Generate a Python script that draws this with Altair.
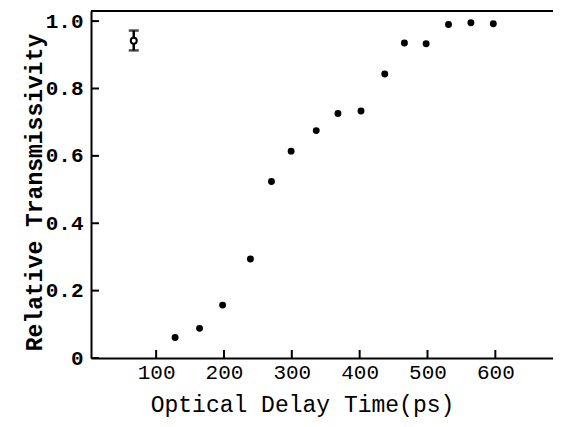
import altair as alt
import pandas as pd

# Data
delay_ps = [128, 164, 198, 239, 270, 299, 336, 368, 402, 437, 466, 498, 531, 564, 597]
transmissivity = [0.061, 0.088, 0.157, 0.294, 0.524, 0.614, 0.675, 0.726, 0.733,
                  0.843, 0.935, 0.933, 0.990, 0.995, 0.992]

# Representative error bar
err_x = [67]
err_y = [0.942]
err_lo = [0.913]
err_hi = [0.972]

x_ticks = [100, 200, 300, 400, 500, 600]
y_ticks = [0, 0.2, 0.4, 0.6, 0.8, 1.0]

W, H = 462, 347
X_DOMAIN = [4, 685]
Y_DOMAIN = [0, 1.03]
FONT = "Liberation Mono"

pts = pd.DataFrame({"delay": delay_ps, "trans": transmissivity})
err = pd.DataFrame({"delay": err_x, "trans": err_y, "lo": err_lo, "hi": err_hi})
xt = pd.DataFrame({"v": x_ticks})
yt = pd.DataFrame({"v": y_ticks})

xs = alt.Scale(domain=X_DOMAIN, nice=False, zero=False)
ys = alt.Scale(domain=Y_DOMAIN, nice=False, zero=False)

x_axis = alt.Axis(
    values=x_ticks, ticks=False, grid=False, domainColor="black", domainWidth=2,
    labelFont=FONT, labelFontSize=21, labelColor="black", labelPadding=3,
    title="Optical Delay Time(ps)", titleFont=FONT, titleFontSize=23,
    titleFontWeight="normal", titleColor="black", titleX=211, titleY=53,
    titleBaseline="alphabetic", titleAlign="center",
)
y_axis = alt.Axis(
    values=y_ticks, ticks=False, grid=False, domainColor="black", domainWidth=2,
    labelFont=FONT, labelFontSize=21, labelFontWeight="bold", labelColor="black",
    labelPadding=8,
    labelExpr="datum.value == 0 ? '0' : format(datum.value, '.1f')",
    title="Relative Transmissivity", titleFont=FONT, titleFontSize=23,
    titleFontWeight="bold", titleColor="black", titleAngle=270,
    titleX=-57, titleY=181, titleAlign="center", titleBaseline="middle",
)

points = alt.Chart(pts).mark_circle(size=48, color="black", opacity=1).encode(
    x=alt.X("delay:Q", scale=xs, axis=x_axis),
    y=alt.Y("trans:Q", scale=ys, axis=y_axis),
)

err_rule = alt.Chart(err).mark_rule(color="black", strokeWidth=2.5).encode(
    x=alt.X("delay:Q", scale=xs), y=alt.Y("lo:Q", scale=ys), y2="hi:Q"
)
cap_lo = alt.Chart(err).mark_tick(color="black", thickness=2.5, size=10, orient="horizontal").encode(
    x=alt.X("delay:Q", scale=xs), y=alt.Y("lo:Q", scale=ys)
)
cap_hi = alt.Chart(err).mark_tick(color="black", thickness=2.5, size=10, orient="horizontal").encode(
    x=alt.X("delay:Q", scale=xs), y=alt.Y("hi:Q", scale=ys)
)
err_pt = alt.Chart(err).mark_point(shape="circle", size=36, color="black", fill="white",
                                   filled=False, strokeWidth=2, opacity=1).encode(
    x=alt.X("delay:Q", scale=xs), y=alt.Y("trans:Q", scale=ys)
)

# inward tick marks
xtick_marks = alt.Chart(xt).mark_rule(color="black", strokeWidth=2).encode(
    x=alt.X("v:Q", scale=xs), y=alt.value(H), y2=alt.value(H - 8)
)
ytick_marks = alt.Chart(yt).mark_rule(color="black", strokeWidth=2).encode(
    y=alt.Y("v:Q", scale=ys), x=alt.value(0), x2=alt.value(8)
)
top_border = alt.Chart(pts).mark_rule(color="black", strokeWidth=1.8).encode(
    y=alt.value(0), x=alt.value(0), x2=alt.value(W)
)

chart = alt.layer(
    top_border, xtick_marks, ytick_marks, points, err_rule, cap_lo, cap_hi, err_pt
).properties(
    width=W, height=H,
    autosize=alt.AutoSizeParams(type="none"),
    padding={"left": 83, "top": 3, "right": 0, "bottom": 61},
).configure_view(stroke=None).configure(background="white")

chart.save("out.html", embed_options={"renderer": "svg", "actions": False})
